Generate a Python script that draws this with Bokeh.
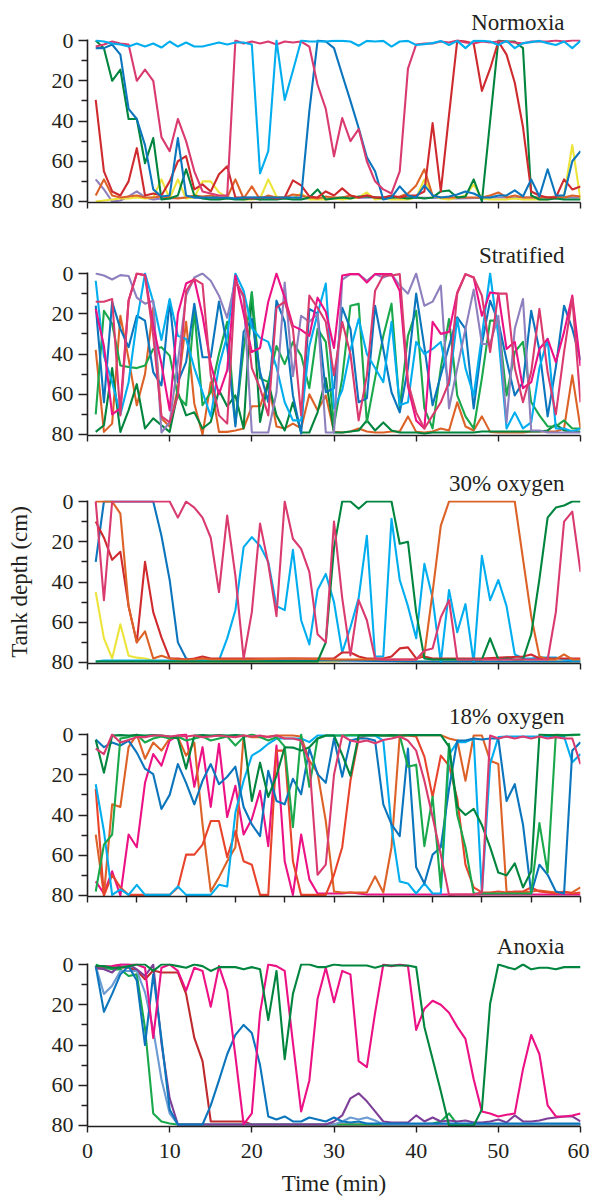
from bokeh.plotting import figure
from bokeh.layouts import column
from bokeh.models import Range1d, FixedTicker
from bokeh.embed import file_html
from bokeh.resources import INLINE

FONT = "Liberation Serif"
TXT = "#231f20"

CYAN = "#00aeef"; CRIMSON = "#da3b6f"; MAGENTA = "#ec1184"; DGREEN = "#00853f"
GREEN = "#19a84b"; BLUE = "#0b75bd"; RED = "#cf2a2e"; RED2 = "#e8432c"; DRED = "#bf2a2f"
ORANGE = "#dd6227"; YELLOW = "#ede43a"; LAV = "#8e80be"; PURPLE = "#7e3f98"; STEEL = "#6b9bd2"

# ---------------- Normoxia ----------------
norm_lav = [(1,69),(2,74),(3,80),(4,79.5),(5,77.5),(6,75),(7,78),(8,79),(9,78.5),(10,78.5),(12,78),(15,78.5),(20,78),(25,78.5),(30,78.5),(35,78),(40,78),(45,78.5),(50,78),(55,78),(60,78)]
norm_yellow = [(1,80),(2,79.5),(3,79),(4,78.5),(5,78.5),(6,78),(7,78.5),(8,78),(9,69),(10,78.5),(11,69),(12,78.5),(13,78),(14,70),(15,70),(16,75.5),(17,78),(18,78.5),(19,79),(20,79),(21,78.5),(22,69),(23,77.5),(24,78.5),(25,78.5),(26,76),(27,79),(28,79),(29,79),(30,78.5),(31,79),(32,78.5),(33,78),(34,75.5),(35,79),(36,78.5),(37,79),(38,79),(39,79),(40,78),(41,69),(42,77),(43,78.5),(44,79),(45,78),(46,77),(47,71.5),(48,78.5),(49,79),(50,79),(51,79),(52,78.5),(53,79),(54,79),(55,79),(56,79),(57,78),(58,77),(59,52),(60,79)]
norm_orange = [(1,77),(2,69),(3,77),(4,78),(5,77.5),(6,77),(7,78),(8,78),(9,77.5),(10,78),(11,78.5),(12,78),(13,77),(14,77.5),(15,77),(16,78),(17,78),(18,69),(19,78.5),(20,72.5),(21,79),(22,77),(23,78),(24,78),(25,76.5),(26,77),(27,78),(28,78.5),(29,77.5),(30,78),(31,78),(32,77),(33,78),(34,77),(35,78),(36,78),(37,78),(38,77.5),(39,76),(40,72),(41,64),(42,77),(43,78),(44,78),(45,78),(46,78),(47,78),(48,78),(49,77),(50,75.5),(51,78),(52,77),(53,78),(54,78),(55,78),(56,78),(57,77.5),(58,78),(59,77),(60,77.5)]
norm_dgreen = [(1,0),(2,3.8),(3,20),(4,14.5),(5,39),(6,39),(7,61),(8,48.5),(9,79),(10,78.5),(11,77),(12,64),(13,77),(14,78.5),(15,79),(16,79),(17,78.5),(18,79),(19,79),(20,78.5),(21,79),(22,79),(23,79),(24,78.5),(25,79),(26,79),(27,78),(28,74),(29,79),(30,78.5),(31,78),(32,78.5),(33,77.5),(34,77.5),(35,78),(36,78.5),(37,78),(38,78),(39,78.5),(40,78),(41,78.5),(42,78),(43,75),(44,74.5),(45,78),(46,77.5),(47,69),(48,80),(49,40),(50,0),(51,0.5),(52,0.5),(53,3.8),(54,77),(55,79),(56,79),(57,78.5),(58,79),(59,79),(60,79)]
norm_red = [(1,29.5),(2,65),(3,75),(4,77),(5,70),(6,53.5),(7,77),(8,76),(9,77),(10,70),(11,60),(12,57.5),(13,74),(14,71.5),(15,75),(16,66.5),(17,62.5),(18,78),(19,78),(20,78.5),(21,78),(22,78),(23,78.5),(24,78),(25,69.5),(26,72),(27,77.5),(28,78),(29,75),(30,77),(31,73.5),(32,77),(33,78),(34,77),(35,78),(36,78),(37,77),(38,78),(39,77),(40,77),(41,75),(42,41),(43,75),(44,37),(45,0),(46,0.5),(47,1.5),(48,25),(49,14),(50,0.5),(51,7),(52,21),(53,43),(54,75),(55,77),(56,78),(57,78),(58,69),(59,74),(60,72.5)]
norm_blue = [(1,3.8),(2,3.8),(3,2),(4,7),(5,34),(6,39),(7,52),(8,74),(9,77.5),(10,77),(11,48.5),(12,77),(13,78),(14,78),(15,78),(16,78),(17,78),(18,78.5),(19,78),(20,78),(21,78),(22,78),(23,78),(24,78),(25,78),(26,78),(27,35),(28,0),(29,0.5),(30,3.8),(31,17),(32,30),(33,43.5),(34,58),(35,65),(36,79),(37,78),(38,72.5),(39,77),(40,78),(41,72),(42,77),(43,78),(44,77.5),(45,76.5),(46,75),(47,76),(48,78),(49,78),(50,77),(51,77),(52,74.5),(53,77.5),(54,69),(55,77.5),(56,64),(57,77),(58,77),(59,60),(60,55)]
norm_pink = [(1,3),(2,2),(3,0.5),(4,1.5),(5,2),(6,20),(7,14.5),(8,20),(9,48),(10,55),(11,39),(12,50),(13,65),(14,75),(15,76),(16,77),(17,77),(18,0),(19,1.5),(20,0.5),(21,1.5),(22,0.5),(23,2),(24,0.5),(25,1),(26,0.5),(27,3),(28,22),(29,34),(30,57.5),(31,38.5),(32,50),(33,44),(34,60),(35,70),(36,74),(37,76),(38,65),(39,14),(40,2),(41,1.5),(42,1.5),(43,0.5),(44,1),(45,0),(46,1),(47,1.5),(48,0.5),(49,1),(50,0.5),(51,0.5),(52,1),(53,1.5),(54,0.5),(55,0.5),(56,0.5),(57,0),(58,0.5),(59,0),(60,0)]
norm_cyan = [(1,0),(2,0.5),(3,1.5),(4,2),(5,3),(6,1.5),(7,3),(8,1.5),(9,3.5),(10,0.5),(11,3),(12,1),(13,3),(14,3),(15,2),(16,1),(17,2),(18,1),(19,1),(20,2),(21,66),(22,55),(23,0),(24,29.5),(25,15),(26,0),(27,0.5),(28,0.5),(29,0.5),(30,0.2),(31,0.2),(32,0.5),(33,2.6),(34,0.2),(35,0.5),(36,0.2),(37,3),(38,0.5),(39,0.2),(40,2.2),(41,1.8),(42,1.3),(43,0.2),(44,2.2),(45,0.2),(46,3.8),(47,0.2),(48,0.2),(49,0.5),(50,2.2),(51,0.2),(52,3.8),(53,1.3),(54,0.8),(55,0.2),(56,1.3),(57,2.2),(58,0.5),(59,3.8),(60,0.2)]

# ---------------- Stratified ----------------
strat_orange = [(1,38),(2,78.7),(3,74.6),(4,21),(5,42.4),(6,65.5),(7,50),(8,17),(9,72),(10,76),(11,57),(12,24),(13,64.7),(14,80),(15,54),(16,78.7),(17,78.7),(18,78),(19,77),(20,66),(21,66),(22,54),(23,76),(24,77),(25,74.6),(26,77),(27,60),(28,68),(29,60.6),(30,78.7),(31,79),(32,78.5),(33,77),(34,78.5),(35,79),(36,79),(37,78.5),(38,78.5),(39,71),(40,78.7),(41,79),(42,78.5),(43,77),(44,78),(45,64),(46,76),(47,78),(48,71),(49,78.7),(50,79),(51,79),(52,79),(53,79),(54,78.5),(55,78.5),(56,78.5),(57,78.5),(58,77),(59,50.6),(60,77)]
strat_dgreen = [(1,78.7),(2,75.4),(3,47),(4,78.7),(5,68),(6,55),(7,77),(8,72),(9,75.4),(10,78.7),(11,59),(12,70.5),(13,69),(14,77),(15,73.8),(16,58),(17,66),(18,60.6),(19,77),(20,9.4),(21,73.8),(22,54),(23,70.5),(24,78),(25,64),(26,79),(27,79),(28,69),(29,52),(30,79),(31,79),(32,78.5),(33,78),(34,73),(35,78),(36,74),(37,78),(38,79),(39,79),(40,79),(41,79.5),(42,79),(43,79),(44,79),(45,79),(46,79),(47,79),(48,78.5),(49,78.5),(50,78.5),(51,78.5),(52,78.5),(53,78.5),(54,78.5),(55,78.5),(56,78),(57,75),(58,78),(59,78.5),(60,78.5)]
strat_green = [(1,70),(2,18.5),(3,25),(4,45.7),(5,46.5),(6,47),(7,45.7),(8,37.5),(9,36.6),(10,40.8),(11,61),(12,65.5),(13,18.5),(14,65.5),(15,59),(16,40),(17,24),(18,74.6),(19,37.5),(20,9.4),(21,52),(22,54),(23,36),(24,45),(25,34),(26,40.8),(27,57),(28,27.5),(29,34),(30,75.4),(31,52),(32,16),(33,15),(34,74),(35,52),(36,31),(37,15),(38,67),(39,31),(40,18.5),(41,67),(42,77),(43,47),(44,22.6),(45,60.6),(46,71),(47,77),(48,52),(49,23.4),(50,23.4),(51,60.6),(52,39),(53,34),(54,64),(55,70.5),(56,76),(57,76),(58,73),(59,77),(60,77)]
strat_blue = [(1,16),(2,64),(3,14),(4,27.5),(5,36.6),(6,21),(7,23.4),(8,49),(9,55.6),(10,13.5),(11,54),(12,44),(13,15),(14,41.6),(15,41.6),(16,14),(17,36),(18,76),(19,29),(20,22.6),(21,49),(22,64),(23,13.5),(24,24),(25,60.6),(26,79.5),(27,17.6),(28,20),(29,59),(30,57),(31,17),(32,27.5),(33,64),(34,62),(35,16),(36,37.5),(37,59),(38,69),(39,47),(40,10),(41,36.6),(42,65.5),(43,50.6),(44,36),(45,21.8),(46,27.5),(47,67),(48,35),(49,13.5),(50,24),(51,43),(52,60.6),(53,54),(54,18.5),(55,38),(56,71),(57,46.5),(58,16),(59,27.5),(60,43)]
strat_cyan = [(1,3.6),(2,41),(3,54),(4,70),(5,54),(6,24),(7,0),(8,14),(9,33),(10,12.7),(11,31),(12,32.5),(13,47),(14,59),(15,71),(16,46),(17,31),(18,0),(19,8.6),(20,27),(21,32),(22,34),(23,46.5),(24,64),(25,73),(26,73),(27,36),(28,20),(29,5),(30,67),(31,58),(32,38),(33,22.6),(34,40),(35,47),(36,54),(37,24),(38,65.5),(39,64),(40,34),(41,40),(42,37.5),(43,34),(44,55.6),(45,22.6),(46,47),(47,60.6),(48,31),(49,0),(50,31),(51,77),(52,69),(53,77),(54,74),(55,47),(56,32.5),(57,77),(58,77),(59,78.5),(60,77)]
strat_lav = [(1,0),(2,1),(3,3),(4,0.8),(5,1.2),(6,12),(7,15),(8,13.5),(9,79),(10,74),(11,44),(12,11),(13,2),(14,0),(15,3.6),(16,11),(17,22),(18,3.6),(19,12),(20,79),(21,79),(22,79),(23,59),(24,4.5),(25,51),(26,21),(27,24),(28,20),(29,79),(30,79),(31,3),(32,0.3),(33,0.3),(34,3.6),(35,0.3),(36,2),(37,0.3),(38,6),(39,10),(40,0),(41,16),(42,14),(43,6),(44,67),(45,47),(46,27.5),(47,8),(48,35),(49,35),(50,21),(51,74),(52,27.5),(53,12.7),(54,78),(55,78),(56,79),(57,79),(58,79),(59,79),(60,79)]
strat_mag = [(1,17.6),(2,36),(3,70),(4,67),(5,13.5),(6,0),(7,0.8),(8,26),(9,45),(10,68),(11,20),(12,5),(13,3),(14,21),(15,45),(16,60),(17,48),(18,1),(19,20),(20,39),(21,37),(22,14),(23,0),(24,12),(25,26),(26,28),(27,31),(28,12),(29,19),(30,37),(31,1),(32,0.3),(33,0.3),(34,4.5),(35,0.3),(36,0.3),(37,0.3),(38,8.6),(39,56),(40,73),(41,77),(42,24),(43,30),(44,29),(45,9.4),(46,0.3),(47,2),(48,21),(49,9.4),(50,10),(51,37.5),(52,34),(53,57),(54,54),(55,37.5),(56,32.5),(57,44),(58,29),(59,11),(60,46)]
strat_crim = [(1,14),(2,14),(3,12.7),(4,70.5),(5,13.5),(6,0),(7,1),(8,31),(9,71),(10,74),(11,60.6),(12,8.6),(13,2.8),(14,5.3),(15,50.6),(16,70.5),(17,74.6),(18,3.6),(19,11),(20,47),(21,57),(22,70.5),(23,17),(24,14),(25,27.5),(26,70.5),(27,11),(28,17),(29,24),(30,50.6),(31,24),(32,40),(33,73),(34,50.6),(35,8.6),(36,1),(37,1),(38,0.3),(39,54),(40,69),(41,77),(42,70.5),(43,64),(44,54),(45,10),(46,0.3),(47,2),(48,11),(49,39),(50,10),(51,10),(52,47),(53,64),(54,49),(55,17.6),(56,49),(57,70),(58,39),(59,12),(60,64)]

# ---------------- 30% oxygen ----------------
o30_yellow = [(1,45),(2,68),(3,78),(4,61),(5,76.6),(6,77.6),(7,78),(8,79),(9,79.5),(10,79.5),(15,79.5),(20,79.5),(25,79.5),(30,79.5),(33,78.5),(35,78.5),(38,79.5),(45,79.5),(50,79.5),(55,79.5),(60,79.5)]
o30_blue = [(1,30),(2,0),(3,0),(4,0),(5,0),(6,0),(7,0),(8,0),(9,17),(10,39),(11,70),(12,78),(13,79),(14,79),(20,79),(30,79),(40,79.5),(50,79.5),(60,79.5)]
o30_cyan = [(1,79.5),(2,79),(3,79),(5,79),(10,79),(15,79),(16,79),(17,68),(18,54),(19,22.7),(20,17.7),(21,22),(22,30),(23,52),(24,54),(25,24),(26,59),(27,71),(28,44),(29,36),(30,50),(31,75),(32,62.5),(33,48),(34,17),(35,77),(36,77),(37,8.6),(38,39),(39,52),(40,68),(41,31),(42,48),(43,80),(44,44),(45,65),(46,51),(47,80),(48,27),(49,49),(50,39),(51,52),(52,76),(53,78),(54,78),(55,77.5),(56,77.5),(57,77.5),(58,78.5),(59,79),(60,79)]
o30_red = [(1,10),(2,18),(3,29),(4,25),(5,52),(6,70),(7,30),(8,55),(9,67.5),(10,78),(11,78),(12,78.5),(13,78),(14,77),(15,78),(20,78),(25,78),(30,78),(31,75),(32,75),(33,77),(34,78),(35,78),(36,78),(37,77),(38,73),(39,72.5),(40,78),(41,77),(42,78),(48,78),(53,77),(54,76),(55,78),(60,78)]
o30_orange = [(1,0),(2,0),(3,0),(4,6),(5,52),(6,70),(7,64.5),(8,78),(9,76.6),(10,78),(11,78.5),(12,78.5),(13,78.5),(14,78),(15,78.5),(20,78.5),(25,78),(30,78.5),(35,78.5),(40,78.5),(41,76),(42,45),(43,12),(44,0),(45,0),(48,0),(52,0),(53,28.5),(54,57),(55,77),(56,78.5),(57,78.5),(58,76),(59,78.5),(60,78.5)]
o30_dgreen = [(1,79.5),(10,79.5),(20,79.5),(28,79.5),(29,70),(30,23),(31,0),(32,0),(33,3.6),(34,0),(35,0),(36,0),(37,0),(38,21),(39,20),(40,55),(41,78),(42,78.5),(45,78.5),(48,78.5),(49,68),(50,78.5),(51,78),(52,78.5),(53,78.5),(54,66),(55,38.5),(56,8),(57,3),(58,2),(59,0),(60,0)]
o30_pink = [(1,0),(2,49),(3,0),(4,0),(5,0),(6,0),(7,0),(8,0),(9,0),(10,0),(11,8),(12,0),(13,3),(14,8),(15,18),(16,45),(17,7),(18,37),(19,78),(20,55),(21,11),(22,31),(23,57),(24,0),(25,18.5),(26,23.5),(27,35),(28,66),(29,70),(30,10),(31,48),(32,76.5),(33,49),(34,59),(35,78),(36,78.5),(40,78.5),(41,74),(42,73),(43,57.5),(44,49),(45,78.5),(50,78.5),(56,78.5),(57,55),(58,10),(59,5),(60,35)]

# ---------------- 18% oxygen ----------------
o18_mag = [(1,73),(2,79),(3,68),(4,80),(5,49.7),(6,56),(7,24),(8,9.7),(9,15.5),(10,3),(11,0.5),(12,0),(13,26),(14,6.3),(15,36),(16,4.6),(17,41),(18,25.5),(19,49.7),(20,42),(21,28),(22,55.5),(23,5.5),(24,63),(25,79.7),(26,49.7),(27,72),(28,79),(29,79),(30,79),(31,79),(32,78.5),(33,79),(34,79.5),(40,79.5),(50,79.5),(60,79.5)]
o18_orange = [(1,49.7),(2,79.7),(3,34.7),(4,36),(5,6.3),(6,0),(7,12),(8,4),(9,8),(10,2),(11,1.3),(12,10.5),(13,4),(14,44.7),(15,78),(16,71),(17,63),(18,56),(19,0.5),(20,1.3),(21,1.3),(22,1),(23,0.5),(24,0.5),(25,0.5),(26,1),(27,13),(28,19),(29,43),(30,78),(31,78.5),(32,78.5),(33,78.5),(34,78.5),(35,70.5),(36,78.5),(37,56),(38,0.5),(39,0.3),(40,0.3),(41,0.3),(42,0.3),(43,0.3),(44,2),(45,3),(46,23),(47,0.5),(48,0.5),(49,13),(50,14.7),(51,78),(52,78.5),(53,78.5),(54,78),(55,77.5),(56,78),(57,78.5),(58,78.5),(59,78.5),(60,76)]
o18_red = [(1,27),(2,80),(3,69.7),(4,76),(5,79.7),(6,79.7),(7,79.7),(8,79.7),(9,79.7),(10,79.7),(11,76),(12,59.7),(13,59.7),(14,54.7),(15,43),(16,43),(17,61),(18,48),(19,63),(20,64.7),(21,79.7),(22,79.7),(23,8),(24,8),(25,63),(26,79.7),(27,79.7),(28,79.7),(29,79.7),(30,69.7),(31,56),(32,23),(33,2),(34,0.5),(35,0.5),(36,0.5),(37,0.5),(38,0.5),(39,0.5),(40,1),(41,11),(42,31),(43,10.5),(44,15.5),(45,32),(46,64.7),(47,76),(48,78.5),(49,78.5),(50,78),(51,78.5),(52,78),(53,78),(54,76),(55,78),(56,78.5),(57,79),(58,78),(59,79),(60,78.5)]
o18_cyan = [(1,24.7),(2,48),(3,79.7),(4,77),(5,79.7),(6,74.7),(7,79.7),(8,79.7),(9,79.7),(10,79.7),(11,75.5),(12,79.7),(13,79.7),(14,79.7),(15,79.7),(16,74.7),(17,75.5),(18,38.8),(19,23),(20,10.5),(21,8),(22,4.6),(23,2),(24,2),(25,2),(26,2),(27,3.8),(28,0.5),(29,0.5),(30,0.5),(31,0.5),(32,0.5),(33,0.5),(34,0.5),(35,0.5),(36,3),(37,46),(38,73),(39,74),(40,79),(41,74),(42,79),(43,79),(44,10),(45,3.8),(46,3.8),(47,2),(48,79),(49,14.7),(50,1.3),(51,1),(52,1),(53,1),(54,1),(55,1),(56,1),(57,1),(58,1),(59,13.8),(60,9.7)]
o18_blue = [(1,2.5),(2,6.3),(3,4),(4,5.5),(5,3),(6,9),(7,17),(8,19.7),(9,37),(10,30),(11,14.7),(12,24),(13,34.7),(14,23),(15,14.7),(16,24.7),(17,21),(18,16),(19,36),(20,44.7),(21,50.5),(22,18),(23,33),(24,34.7),(25,22),(26,29.7),(27,7),(28,19.7),(29,24),(30,2),(31,21),(32,3),(33,2),(34,2),(35,3),(36,34.7),(37,44.7),(38,50.5),(39,7),(40,66),(41,74),(42,59.7),(43,56),(44,27),(45,3),(46,3),(47,2),(48,2.5),(49,2),(50,2),(51,33),(52,24.7),(53,44.7),(54,79),(55,64.7),(56,69.7),(57,78),(58,79),(59,8),(60,3.8)]
o18_green = [(1,78),(2,54.7),(3,49.7),(4,2),(5,1.3),(6,0),(7,4),(8,2),(9,1),(10,2),(11,1),(12,3),(13,2),(14,1),(15,3),(16,2),(17,1),(18,5.5),(19,1.3),(20,0),(21,1.3),(22,3),(23,1.3),(24,6),(25,46),(26,0),(27,26),(28,2),(29,0.5),(30,0.5),(31,0.5),(32,0.3),(33,0.3),(34,0.3),(35,0.3),(36,0.5),(37,0.5),(38,0.5),(39,16),(40,15),(41,55.5),(42,31),(43,76),(44,4.6),(45,40),(46,56),(47,79),(48,79),(50,79),(52,79),(54,79),(55,44),(56,68.6),(57,0),(58,0.3),(59,0.3),(60,0)]
o18_dgreen = [(1,2.7),(2,19),(3,0.5),(4,0.3),(5,0.5),(6,0.3),(7,0.5),(8,0.3),(9,0.5),(10,1),(11,2),(12,17),(13,0.5),(14,0.3),(15,0.5),(16,0.3),(17,0.5),(18,0.3),(19,0.5),(20,33),(21,14),(22,31),(23,20.5),(24,6.3),(25,6.5),(26,8),(27,6.3),(28,2),(29,0.5),(30,0.5),(31,10),(32,20.5),(33,0.5),(34,0.3),(35,0.3),(36,0.5),(37,0.3),(38,0.5),(39,0.3),(40,0.3),(41,0.3),(42,0.3),(43,0.3),(44,6),(45,36),(46,40),(47,37),(48,45),(49,56),(50,68.6),(51,70),(52,64),(53,76),(54,68),(55,0),(56,0.3),(57,0.3),(58,0.5),(59,0),(60,0)]
o18_crim = [(1,7),(2,9.7),(3,0),(4,4),(5,2.7),(6,1.3),(7,1.3),(8,0.5),(9,0.5),(10,1),(11,0.5),(12,1),(13,0.5),(14,1.3),(15,1),(16,0.5),(17,1),(18,1.3),(19,0.5),(20,1),(21,0.5),(22,1.3),(23,0.5),(24,2),(25,2),(26,3),(27,13.8),(28,69.7),(29,64.7),(30,20),(31,0.5),(32,3),(33,3.8),(34,3),(35,4.3),(36,2.7),(37,2),(38,1),(39,3),(40,8),(41,23),(42,41),(43,59.7),(44,79.7),(45,79.5),(46,79.5),(47,79.5),(48,78.5),(49,0.5),(50,2),(51,1),(52,2),(53,1),(54,2),(55,1),(56,2),(57,1.3),(58,2),(59,2),(60,14.7)]

# ---------------- Anoxia ----------------
an_red = [(1,2),(2,2),(3,1.6),(4,1.3),(5,1.6),(6,3),(7,7.3),(8,3),(9,4),(10,4),(11,4),(12,14.6),(13,36.5),(14,48),(15,78),(16,78),(17,78),(18,78),(19,78),(20,79.5),(30,79.5),(40,79.5),(50,79.5),(60,79.5)]
an_green = [(1,0),(2,1.6),(3,2.4),(4,2.4),(5,5.7),(6,4.9),(7,31.6),(8,74),(9,78),(10,79),(11,79.5),(20,79.5),(30,79.5),(40,79.5),(42,79),(43,78),(44,74),(45,79.5),(60,79.5)]
an_steel = [(1,0.8),(2,14.6),(3,10.5),(4,3.2),(5,3.2),(6,3.2),(7,13.8),(8,32.5),(9,57),(10,74),(11,79.5),(12,79.5),(20,79.5),(30,79.5),(31,78),(32,76),(33,77),(34,76),(35,77.5),(36,79.5),(45,79.5),(60,79.5)]
an_purple = [(1,1.6),(2,2.4),(3,4),(4,0),(5,0),(6,2.4),(7,5.7),(8,0),(9,39),(10,66.5),(11,79.5),(12,79.5),(20,79.5),(29,79.5),(30,78),(31,75),(32,66.5),(33,64),(34,68),(35,73),(36,78),(37,78.5),(38,78.5),(39,78.5),(40,75),(41,78),(42,76),(43,78),(44,77.5),(45,78),(46,77.5),(47,78.5),(48,78.5),(49,78),(50,77),(51,78.5),(52,75),(53,78),(54,78),(55,77.5),(56,76.5),(57,76),(58,75.5),(59,75.5),(60,78)]
an_blue = [(1,0.8),(2,23.5),(3,14.6),(4,4.9),(5,0.8),(6,8),(7,40),(8,4.9),(9,37),(10,72),(11,79.5),(12,79.5),(13,79.5),(14,79.5),(15,70),(16,57.6),(17,44.6),(18,35),(19,30),(20,34),(21,50),(22,75.5),(23,77),(24,75.5),(25,78),(26,78),(27,76),(28,77),(29,78),(30,76),(31,78),(32,78.5),(33,78),(34,79),(35,79),(40,79),(50,79),(60,79)]
an_mag = [(1,1),(2,1),(3,0.8),(4,0),(5,0),(6,0),(7,1.6),(8,36.5),(9,1.6),(10,0),(11,3.2),(12,13),(13,1.6),(14,3.2),(15,21),(16,0.8),(17,13),(18,45.5),(19,79.5),(20,74),(21,24),(22,0),(23,0.8),(24,3.2),(25,39),(26,73),(27,57.6),(28,17),(29,1.6),(30,18.7),(31,3.2),(32,4.9),(33,48),(34,51),(35,24),(36,0),(37,0.8),(38,0),(39,0.8),(40,32.5),(41,22),(42,18),(43,20),(44,24),(45,31),(46,37),(47,57),(48,73),(49,74),(50,75.5),(51,74.7),(52,74),(53,52),(54,35),(55,44.6),(56,70),(57,75.5),(58,75.5),(59,75),(60,74)]
an_dgreen = [(1,0.8),(2,0.8),(3,1.6),(4,1.6),(5,0.8),(6,0),(7,0),(8,3.2),(9,0),(10,0),(11,0.8),(12,1.6),(13,0),(14,0.8),(15,3.2),(16,1.3),(17,1.3),(18,1.3),(19,2.4),(20,1.3),(21,2.4),(22,27.6),(23,3.2),(24,47),(25,14.6),(26,0),(27,0),(28,1.3),(29,1.3),(30,0),(31,0.5),(32,0.5),(33,0.5),(34,0.5),(35,1.6),(36,0.5),(37,0.5),(38,0.5),(39,0.5),(40,1.3),(41,31),(42,47),(43,63),(44,80),(45,80),(46,80),(47,80),(48,72),(49,19.5),(50,0),(51,1.3),(52,2.4),(53,0),(54,2.4),(55,1.6),(56,1.6),(57,2.4),(58,1.3),(59,1.3),(60,1.3)]

panel_titles = ["Normoxia", "Stratified", "30% oxygen", "18% oxygen", "Anoxia"]
x_tick_step = [10, 10, 10, 6, 10]
y_ticks = [0, 20, 40, 60, 80]
y_minor = [10, 30, 50, 70]

panel_series = [
    [(norm_lav, LAV), (norm_yellow, YELLOW), (norm_orange, ORANGE), (norm_dgreen, DGREEN),
     (norm_red, RED), (norm_blue, BLUE), (norm_pink, CRIMSON), (norm_cyan, CYAN)],
    [(strat_orange, ORANGE), (strat_dgreen, DGREEN), (strat_green, GREEN), (strat_blue, BLUE),
     (strat_cyan, CYAN), (strat_lav, LAV), (strat_mag, MAGENTA), (strat_crim, CRIMSON)],
    [(o30_yellow, YELLOW), (o30_blue, BLUE), (o30_cyan, CYAN), (o30_red, RED),
     (o30_orange, ORANGE), (o30_dgreen, DGREEN), (o30_pink, CRIMSON)],
    [(o18_mag, MAGENTA), (o18_orange, ORANGE), (o18_red, RED2), (o18_cyan, CYAN),
     (o18_blue, BLUE), (o18_green, GREEN), (o18_dgreen, DGREEN), (o18_crim, CRIMSON)],
    [(an_red, DRED), (an_green, GREEN), (an_steel, STEEL), (an_purple, PURPLE),
     (an_blue, BLUE), (an_mag, MAGENTA), (an_dgreen, DGREEN)],
]

heights = [233, 228, 233, 230, 274]
W = 589
TOP = 39
FRAME = 163

figs = []
for i, (title, series) in enumerate(zip(panel_titles, panel_series)):
    last = (i == 4)
    H = heights[i]
    p = figure(width=W, height=H, output_backend="svg", toolbar_location=None,
               x_range=Range1d(0, 60), y_range=Range1d(80.5, -0.5),
               min_border_left=87, min_border_right=W - 580, min_border_top=TOP,
               min_border_bottom=H - TOP - FRAME)
    p.outline_line_color = None
    p.grid.visible = False
    p.background_fill_color = "white"
    p.border_fill_color = "white"

    p.title.text = title
    p.title.align = "right"
    p.title.offset = 16
    p.title.standoff = 10
    p.title.text_font = FONT
    p.title.text_font_size = "23px"
    p.title.text_font_style = "normal"
    p.title.text_color = TXT

    for pts, col in series:
        xs = [a for a, b in pts]
        ys = [b for a, b in pts]
        p.line(xs, ys, line_color=col, line_width=2.1, line_join="round")

    xt = list(range(0, 61, x_tick_step[i]))
    xa = p.xaxis[0]
    xa.ticker = FixedTicker(ticks=xt, minor_ticks=[])
    xa.axis_line_width = 1.6
    xa.axis_line_color = TXT
    xa.major_tick_line_color = TXT
    xa.major_tick_line_width = 1.4
    xa.major_tick_out = 6
    xa.major_tick_in = 0
    xa.minor_tick_line_color = None
    if last:
        xa.major_label_text_font = FONT
        xa.major_label_text_font_size = "22px"
        xa.major_label_text_color = TXT
        xa.major_label_standoff = 11
        xa.axis_label = "Time (min)"
        xa.axis_label_text_font = FONT
        xa.axis_label_text_font_size = "23px"
        xa.axis_label_text_font_style = "normal"
        xa.axis_label_text_color = TXT
        xa.axis_label_standoff = 10
    else:
        xa.major_label_overrides = {t: "" for t in xt}
        xa.major_label_text_font_size = "2px"
        xa.major_label_standoff = 0

    ya = p.yaxis[0]
    ya.ticker = FixedTicker(ticks=y_ticks, minor_ticks=y_minor)
    ya.axis_line_width = 1.6
    ya.axis_line_color = TXT
    ya.major_tick_line_color = TXT
    ya.minor_tick_line_color = TXT
    ya.major_tick_line_width = 1.4
    ya.minor_tick_line_width = 1.4
    ya.major_tick_out = 9
    ya.major_tick_in = 0
    ya.minor_tick_out = 6
    ya.minor_tick_in = 0
    ya.major_label_text_font = FONT
    ya.major_label_text_font_size = "22px"
    ya.major_label_text_color = TXT
    ya.major_label_standoff = 5
    if i == 2:
        ya.axis_label = "Tank depth (cm)"
        ya.axis_label_text_font = FONT
        ya.axis_label_text_font_size = "23px"
        ya.axis_label_text_font_style = "normal"
        ya.axis_label_text_color = TXT
        ya.axis_label_standoff = 17

    figs.append(p)

layout = column(*figs, spacing=0)
open("out.html", "w").write(file_html(layout, INLINE))
